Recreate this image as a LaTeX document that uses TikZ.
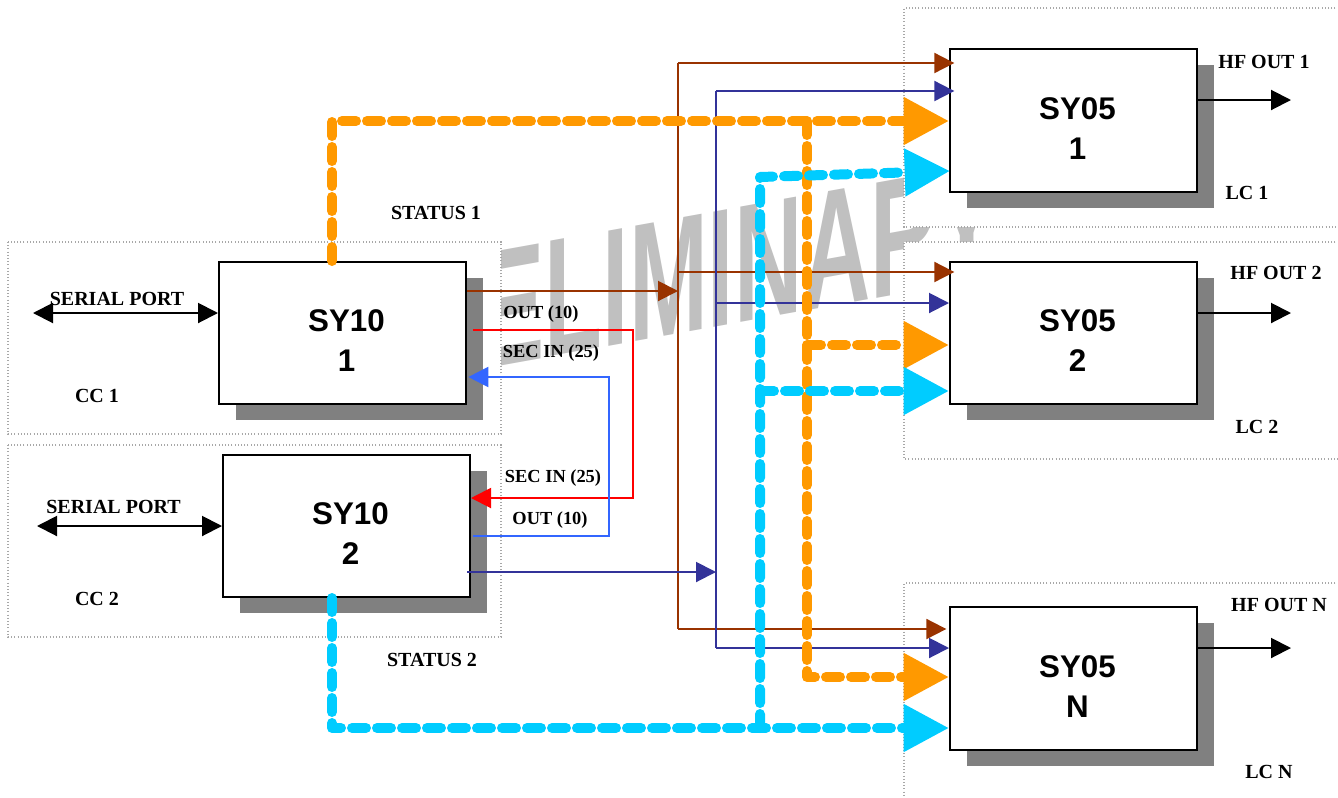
\documentclass[tikz,border=0pt]{standalone}
\usepackage{fontspec}
\setmainfont{Liberation Serif}
\newfontfamily\arialfont{Liberation Sans}
\usetikzlibrary{arrows.meta,shadows}
\definecolor{brn}{HTML}{993300}
\definecolor{nvy}{HTML}{333399}
\definecolor{rdl}{HTML}{FF0000}
\definecolor{bll}{HTML}{3366FF}
\definecolor{org}{HTML}{FF9900}
\definecolor{cyn}{HTML}{00CCFF}
\definecolor{shd}{HTML}{808080}
\definecolor{wmk}{HTML}{C0C0C0}
\definecolor{frm}{HTML}{A8A8A8}
\begin{document}
\begin{tikzpicture}[x=0.75pt,y=-0.75pt,
  block/.style={draw=black, line width=1.5pt, fill=white, inner sep=0pt,
    minimum width=185.25pt, minimum height=106.5pt,
    general shadow={fill=shd, shadow xshift=12.75pt, shadow yshift=-12pt}},
  sylabel/.style={font=\arialfont\bfseries\fontsize{23.5}{30}\selectfont, align=center, inner sep=0pt},
  lbl/.style={font=\bfseries\fontsize{15}{18}\selectfont, inner sep=0pt, text height=9.9pt, text depth=0pt},
  slbl/.style={font=\bfseries\fontsize{13.8}{16}\selectfont, inner sep=0pt, text height=9.1pt, text depth=0pt},
  frame/.style={draw=frm, line width=0.8pt, dash pattern=on 0.8pt off 1.6pt},
  thin/.style={line width=1.5pt},
  smtip/.style={-{Triangle[length=15pt,width=15pt]}},
  bigtip/.style={-{Triangle[length=34pt,width=34pt]}},
  fat/.style={line width=7.5pt, line cap=round, line join=round, dash pattern=on 10.5pt off 8.25pt},
]
\useasboundingbox (0,0) rectangle (1338,797);
\clip (0,0) rectangle (1338,797);
\fill[white] (0,0) rectangle (1338,797);

% watermark
\node[font=\arialfont\bfseries\fontsize{71}{71}\selectfont, text=wmk, inner sep=0pt,
      anchor=base west, yslant=0.18] (wmark) at (350,393) {\scalebox{1}[1.77]{PRELIMINARY}};

% dotted frames
\fill[white] (8,242) rectangle (501,434);
\draw[frame] (8,242) rectangle (501,434);
\fill[white] (8,445) rectangle (501,637);
\draw[frame] (8,445) rectangle (501,637);
\fill[white] (904,8) rectangle (1345,227);
\draw[frame] (1345,8) -- (904,8) -- (904,227) -- (1345,227);
\fill[white] (904,242) rectangle (1345,459);
\draw[frame] (1345,242) -- (904,242) -- (904,459) -- (1345,459);
\fill[white] (904,583) rectangle (1345,805);
\draw[frame] (1345,583) -- (904,583) -- (904,805);

% blocks
\node[block] (sy10a) at (342.5,333) {};
\node[block] (sy10b) at (346.5,526) {};
\node[block, minimum height=107.25pt] (sy05a) at (1073.5,120.5) {};
\node[block] (sy05b) at (1073.5,333) {};
\node[block, minimum height=107.25pt] (sy05n) at (1073.5,678.5) {};
\node[sylabel] (t10a) at ([xshift=3pt,yshift=-6pt]sy10a.center) {SY10\\1};
\node[sylabel] (t10b) at ([xshift=3pt,yshift=-6pt]sy10b.center) {SY10\\2};
\node[sylabel] (t05a) at ([xshift=3pt,yshift=-6pt]sy05a.center) {SY05\\1};
\node[sylabel] (t05b) at ([xshift=3pt,yshift=-6pt]sy05b.center) {SY05\\2};
\node[sylabel] (t05n) at ([xshift=3pt,yshift=-6pt]sy05n.center) {SY05\\N};

% labels
\node[lbl] (spA) at (117,299) {SERIAL PORT};
\node[lbl] (cc1) at (97,396) {CC 1};
\node[lbl] (spB) at (113.5,507) {SERIAL PORT};
\node[lbl] (cc2) at (97,599) {CC 2};
\node[lbl] (st1) at (436,213) {STATUS 1};
\node[lbl] (st2) at (432,660) {STATUS 2};
\node[slbl] (o1) at (541,312) {OUT (10)};
\node[slbl] (s1) at (551,351) {SEC IN (25)};
\node[slbl] (s2) at (553,476) {SEC IN (25)};
\node[slbl] (o2) at (550,518) {OUT (10)};
\node[lbl] (hf1l) at (1264,62) {HF OUT 1};
\node[lbl] (lc1) at (1247,193) {LC 1};
\node[lbl] (hf2l) at (1276,273) {HF OUT 2};
\node[lbl] (lc2) at (1257,427) {LC 2};
\node[lbl] (hfnl) at (1279,605) {HF OUT N};
\node[lbl] (lcn) at (1269,772) {LC N};

% serial port double arrows
\coordinate (spAL) at (33,313);
\coordinate (spBL) at (37,526);
\draw[thin, {Triangle[length=15pt,width=15pt]}-{Triangle[length=15pt,width=15pt]}] (spAL) -- (sy10a.west |- spAL);
\draw[thin, {Triangle[length=15pt,width=15pt]}-{Triangle[length=15pt,width=15pt]}] (spBL) -- (sy10b.west |- spBL);

% HF outputs
\coordinate (hf1) at (1291,100);
\coordinate (hf2) at (1291,313);
\coordinate (hfn) at (1291,648);
\draw[thin, smtip] (sy05a.east |- hf1) -- (hf1);
\draw[thin, smtip] (sy05b.east |- hf2) -- (hf2);
\draw[thin, smtip] (sy05n.east |- hfn) -- (hfn);

% brown bus
\coordinate (brT) at (678,63);
\coordinate (brM) at (678,272);
\coordinate (brJ) at (678,291);
\coordinate (brB) at (678,629);
\draw[thin, brn, smtip] (sy10a.east |- brJ) -- (brJ);
\draw[thin, brn] (brT) -- (brB);
\draw[thin, brn, smtip] (brT) -- ([xshift=4pt]sy05a.west |- brT);
\draw[thin, brn, smtip] (brM) -- ([xshift=4pt]sy05b.west |- brM);
\draw[thin, brn, smtip] (brB) -- ([xshift=-2pt]sy05n.west |- brB);

% navy bus
\coordinate (nvT) at (716,91);
\coordinate (nvM) at (716,303);
\coordinate (nvJ) at (716,572);
\coordinate (nvB) at (716,648);
\draw[thin, nvy, smtip] ([xshift=-3pt]sy10b.east |- nvJ) -- (nvJ);
\draw[thin, nvy] (nvT) -- (nvB);
\draw[thin, nvy, smtip] (nvT) -- ([xshift=4pt]sy05a.west |- nvT);
\draw[thin, nvy, smtip] (nvM) -- (sy05b.west |- nvM);
\draw[thin, nvy, smtip] (nvB) -- (sy05n.west |- nvB);

% SEC IN crossing lines
\coordinate (rdC) at (633,498);
\coordinate (blC) at (609,377);
\draw[thin, rdl, smtip] ([xshift=4.5pt]sy10a.east |- 0,330) -| (rdC) -- (sy10b.east |- rdC);
\draw[thin, bll, smtip] ([xshift=1.5pt]sy10b.east |- 0,536) -| (blC) -- ([xshift=1pt]sy10a.east |- blC);

% STATUS 1 (orange)
\coordinate (orC) at (332,121);
\coordinate (orJ) at (807,121);
\coordinate (orM) at (807,345);
\coordinate (orB) at (807,677);
\draw[fat, org, bigtip] (sy10a.north -| orC) -- (orC) -- (sy05a.west |- orC);
\draw[fat, org, bigtip] (orJ) -- (orB) -- (sy05n.west |- orB);
\draw[fat, org, bigtip] (orM) -- (sy05b.west |- orM);

% STATUS 2 (cyan)
\coordinate (cyC) at (332,728);
\coordinate (cyT) at (760,177);
\coordinate (cyM) at (760,391);
\coordinate (cyB) at (760,728);
\coordinate (cyA) at (950,171);
\draw[fat, cyn, bigtip] (sy10b.south -| cyC) -- (cyC) -- (sy05n.west |- cyC);
\draw[fat, cyn, bigtip] (cyB) -- (cyT) -- (cyA);
\draw[fat, cyn, bigtip] (cyM) -- (sy05b.west |- cyM);
\end{tikzpicture}
\end{document}
